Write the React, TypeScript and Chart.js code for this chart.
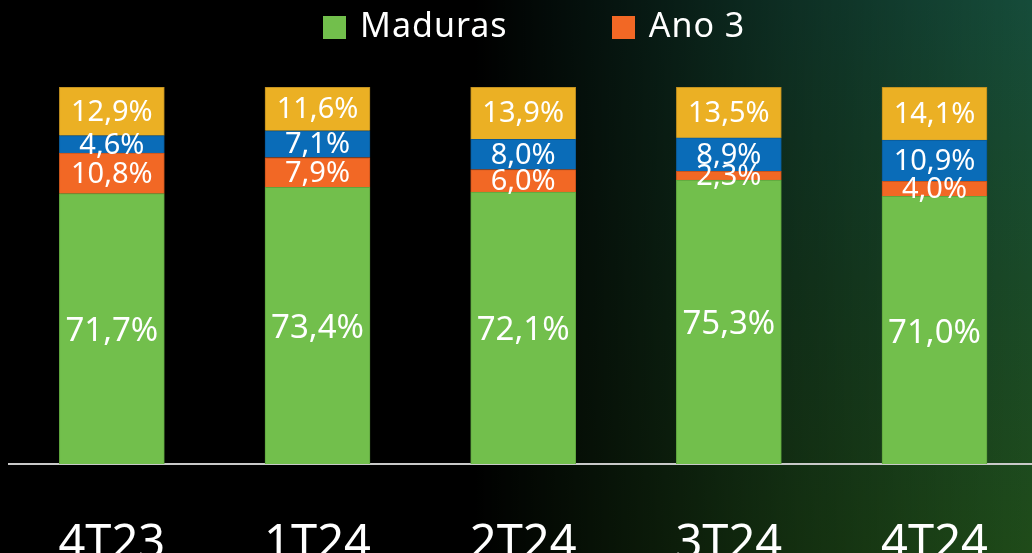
import React, { useEffect, useRef } from 'react';
import { Chart, registerables } from 'chart.js';

Chart.register(...registerables);

const categories = ['4T23', '1T24', '2T24', '3T24', '4T24'];
const maduras = [71.7, 73.4, 72.1, 75.3, 71.0];
const ano3 = [10.8, 7.9, 6.0, 2.3, 4.0];
const ano2 = [4.6, 7.1, 8.0, 8.9, 10.9];
const ano1 = [12.9, 11.6, 13.9, 13.5, 14.1];
const seriesNames = ['Maduras', 'Ano 3', 'Ano 2', 'Ano 1'];
const legendSeries = ['Maduras', 'Ano 3'];

const FONT = '"Noto Sans", sans-serif';

const fmt = (v: number) => v.toFixed(1).replace('.', ',') + '%';

const valueLabels = {
  id: 'valueLabels',
  afterDatasetsDraw(chart: any) {
    const ctx = chart.ctx;
    ctx.save();
    ctx.fillStyle = '#ffffff';
    ctx.textAlign = 'center';
    ctx.textBaseline = 'middle';
    chart.data.datasets.forEach((ds: any, di: number) => {
      const meta = chart.getDatasetMeta(di);
      meta.data.forEach((el: any, i: number) => {
        const v = ds.data[i];
        const { x, y, base } = el.getProps(['x', 'y', 'base'], true);
        ctx.font = `${di === 0 ? 33 : 29}px ${FONT}`;
        ctx.fillText(fmt(v), x, (y + base) / 2 + (di === 0 ? 3 : 1));
      });
    });
    ctx.restore();
  },
};

const topLegend = {
  id: 'topLegend',
  afterDraw(chart: any) {
    const ctx = chart.ctx;
    const items = chart.data.datasets.filter((d: any) => legendSeries.includes(d.label));
    ctx.save();
    ctx.font = `34px ${FONT}`;
    try { (ctx as any).letterSpacing = '1px'; } catch (e) {}
    const box = 23;
    const gap = 14;
    const itemGap = 104;
    const widths = items.map((d: any) => ctx.measureText(d.label).width);
    const total =
      widths.reduce((a: number, w: number) => a + box + gap + w, 0) + itemGap * (items.length - 1);
    let x = (chart.chartArea.left + chart.chartArea.right) / 2 + 11 - total / 2;
    const cy = 27.5;
    items.forEach((d: any, i: number) => {
      ctx.fillStyle = d.backgroundColor;
      ctx.fillRect(Math.round(x), Math.round(cy - box / 2), box, box);
      x += box + gap;
      ctx.fillStyle = '#ffffff';
      ctx.textAlign = 'left';
      ctx.textBaseline = 'middle';
      ctx.fillText(d.label, x, cy);
      x += widths[i] + itemGap;
    });
    ctx.restore();
  },
};

export default function App() {
  const canvasRef = useRef<HTMLCanvasElement | null>(null);

  useEffect(() => {
    if (!canvasRef.current) return;
    const chart = new Chart(canvasRef.current, {
      type: 'bar',
      data: {
        labels: categories,
        datasets: [
          { label: seriesNames[0], data: maduras, backgroundColor: '#72BF4C', borderColor: '#5FA53E', borderWidth: 1 },
          { label: seriesNames[1], data: ano3, backgroundColor: '#F26825', borderColor: '#C9541C', borderWidth: 1 },
          { label: seriesNames[2], data: ano2, backgroundColor: '#0A6CB8', borderColor: '#0A5A98', borderWidth: 1 },
          { label: seriesNames[3], data: ano1, backgroundColor: '#EBB024', borderColor: '#B98A1E', borderWidth: 1 },
        ],
      },
      options: {
        responsive: false,
        animation: false,
        layout: { padding: { left: 9, right: 1, top: 87, bottom: 0 } },
        datasets: { bar: { barThickness: 105 } },
        plugins: {
          legend: { display: false },
          tooltip: { enabled: false },
        },
        scales: {
          x: {
            stacked: true,
            grid: { display: false, drawTicks: false },
            border: { display: true, color: '#c9c9c9', width: 2 },
            ticks: {
              color: '#ffffff',
              font: { family: 'Noto Sans', size: 47 },
              padding: 52,
            },
            afterFit: (s: any) => {
              s.height = 89;
            },
          },
          y: { stacked: true, display: false, min: 0, max: 100 },
        },
      } as any,
      plugins: [valueLabels, topLegend],
    });
    return () => chart.destroy();
  }, []);

  return (
    <div
      style={{
        position: 'fixed',
        left: 0,
        top: 0,
        width: 1032,
        height: 553,
        overflow: 'hidden',
        background:
          'linear-gradient(to right, #000 0%, #000 46%, rgba(0,0,0,0.4) 76%, rgba(0,0,0,0) 100%), linear-gradient(to bottom, #164c3a 0%, #1a4a28 50%, #1f4b19 100%)',
      }}
    >
      <canvas ref={canvasRef} width={1040} height={553} style={{ display: 'block' }} />
    </div>
  );
}
